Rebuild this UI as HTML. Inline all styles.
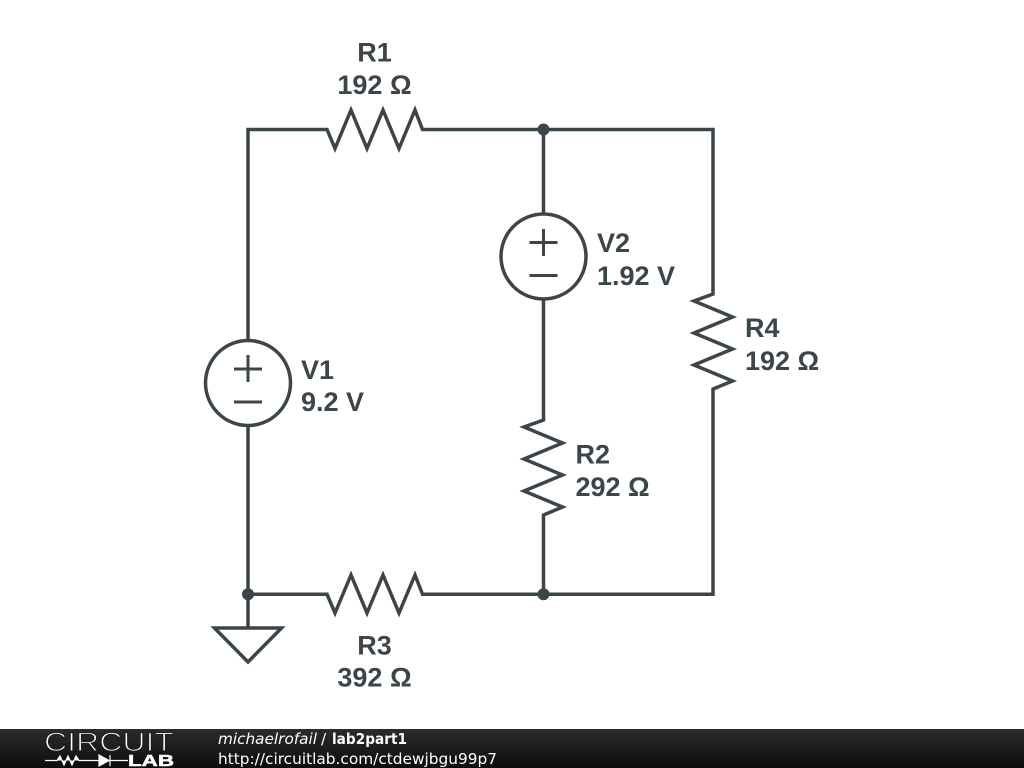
<!DOCTYPE html>
<html>
<head>
<meta charset="utf-8">
<style>
html,body{margin:0;padding:0;background:#fff;width:1024px;height:768px;overflow:hidden}
svg{display:block}
.l{font-family:"Liberation Sans",sans-serif;font-weight:700;font-size:27px;fill:#3c4549}
.f{font-family:"DejaVu Sans",sans-serif;font-size:15.35px;fill:#fff}
</style>
</head>
<body>
<svg width="1024" height="768" viewBox="0 0 1024 768" xmlns="http://www.w3.org/2000/svg">
<defs>
<linearGradient id="g" x1="0" y1="0" x2="0" y2="1"><stop offset="0" stop-color="#2c2c2c"/><stop offset="1" stop-color="#0c0c0c"/></linearGradient>
</defs>
<rect width="1024" height="768" fill="#fff"/>
<g fill="none" stroke="#3c4549" stroke-width="3.500" stroke-linejoin="miter">
<path d="M248 341V129.500H327L335 148.500L351 110L367 148.500L383 110L399 148.500L415 110L422.500 129.500H713V294L694 301L732.500 317L694 333L732.500 349L694 365L732.500 381L713 389V594.300H422.500L415 575L399 613L383 575L367 613L351 575L335 613L327 594.300H248V426"/>
<path d="M543.500 129.500V214M543.500 299V420L524 427L562.500 443L524 459L562.500 475L524 491L562.500 507L543.500 515V594"/>
<path d="M248 594V628"/>
<path d="M214.500 628H281.500L248 662Z"/>
<circle cx="248" cy="383" r="42.500"/>
<circle cx="543.500" cy="256.500" r="42.500"/>
<path d="M234 369H262M248 355V382M234 402H262" stroke-width="3"/>
<path d="M529.500 242.500H557.500M543.500 229V256M529.500 275.500H557.500" stroke-width="3"/>
</g>
<g fill="#3c4549">
<circle cx="543.500" cy="129.500" r="6"/>
<circle cx="543.500" cy="594.300" r="6"/>
<circle cx="248" cy="594.300" r="6"/>
</g>
<g class="l">
<text x="374.500" y="61.500" text-anchor="middle">R1</text>
<text x="374.500" y="94" text-anchor="middle">192 Ω</text>
<text x="597" y="252">V2</text>
<text x="597" y="285">1.92 V</text>
<text x="745" y="337">R4</text>
<text x="745" y="370">192 Ω</text>
<text x="301" y="379">V1</text>
<text x="301" y="411">9.2 V</text>
<text x="575.500" y="463.500">R2</text>
<text x="575.500" y="496">292 Ω</text>
<text x="374.500" y="654.500" text-anchor="middle">R3</text>
<text x="374.500" y="686.500" text-anchor="middle">392 Ω</text>
</g>
<rect x="0" y="729" width="1024" height="39" fill="url(#g)"/>
<text x="44" y="751" font-family="'Liberation Sans',sans-serif" font-size="27" fill="#fff" stroke="#1e1e1e" stroke-width="1.200" textLength="130" lengthAdjust="spacingAndGlyphs">CIRCUIT</text>
<path d="M45 760.500H57L60 756L64 765L68 756L72 765L76 756L79 760.500H99M99 755V766L109 760.500ZM110 755V766M110 760.500H128" fill="#fff" stroke="#fff" stroke-width="1.200"/>
<text x="128" y="766" font-family="'Liberation Sans',sans-serif" font-weight="700" font-size="16" fill="#fff" stroke="#fff" stroke-width="0.500" textLength="46" lengthAdjust="spacingAndGlyphs">LAB</text>
<text class="f" x="218" y="744" font-style="italic" textLength="99" lengthAdjust="spacingAndGlyphs">michaelrofail</text>
<text class="f" x="321" y="744">/</text>
<text class="f" x="332" y="744" font-weight="700" textLength="75" lengthAdjust="spacingAndGlyphs">lab2part1</text>
<text class="f" x="218" y="764">http://circuitlab.com/ctdewjbgu99p7</text>
</svg>
</body>
</html>
